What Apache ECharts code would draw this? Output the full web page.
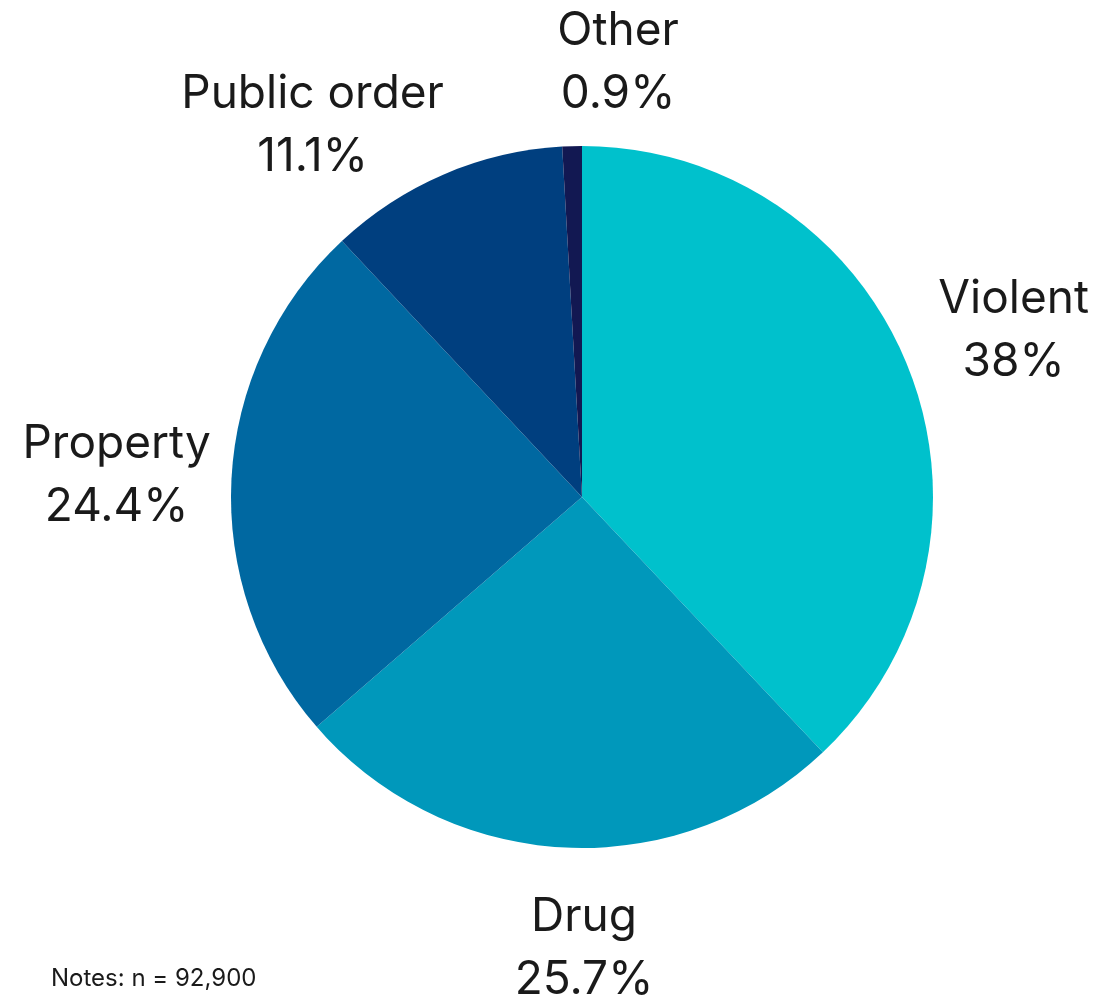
<!DOCTYPE html>
<html>
<head>
<meta charset="utf-8">
<script src="https://cdn.jsdelivr.net/npm/echarts@6/dist/echarts.min.js"></script>
<style>
html,body{margin:0;padding:0;background:#fff;}
#chart{width:1100px;height:997px;}
</style>
</head>
<body>
<div id="chart"></div>
<script>
const categories = ['Violent', 'Drug', 'Property', 'Public order', 'Other'];
const values = [38, 25.7, 24.4, 11.1, 0.9];
const colors = ['#00C1CC', '#0098BB', '#0068A1', '#003F7F', '#121852'];
const labelOffsets = [[6, 3], [25, -6], [-8, 2], [-89, 50], [49, 23]];
const noteText = 'Notes: n = 92,900';

const FONT = 'Inter, "Noto Sans", sans-serif';
const center = [582, 497];

const sliceData = categories.map((name, i) => ({
  name: name, value: values[i], itemStyle: { color: colors[i] }
}));
const labelData = categories.map((name, i) => ({
  name: name, value: values[i],
  label: { offset: labelOffsets[i] }
}));

const chart = echarts.init(document.getElementById('chart'), null, { renderer: 'canvas' });
chart.setOption({
  backgroundColor: '#ffffff',
  animation: false,
  title: {
    text: noteText,
    left: 46,
    bottom: 1,
    textStyle: { fontFamily: FONT, fontSize: 24, fontWeight: 'normal', color: '#1a1a1a' }
  },
  series: [
    {
      type: 'pie',
      center: center,
      radius: [0, 351],
      startAngle: 90,
      clockwise: true,
      silent: true,
      label: { show: false },
      labelLine: { show: false },
      itemStyle: { borderWidth: 0 },
      data: sliceData
    },
    {
      type: 'pie',
      center: center,
      radius: [0, 910],
      startAngle: 90,
      clockwise: true,
      silent: true,
      z: 5,
      itemStyle: { color: 'rgba(0,0,0,0)', borderWidth: 0 },
      labelLine: { show: false },
      label: {
        show: true,
        position: 'inside',
        formatter: '{b}\n{c}%',
        fontFamily: FONT,
        fontSize: 46,
        lineHeight: 63,
        color: '#1a1a1a',
        align: 'center'
      },
      data: labelData
    }
  ]
});
</script>
</body>
</html>
